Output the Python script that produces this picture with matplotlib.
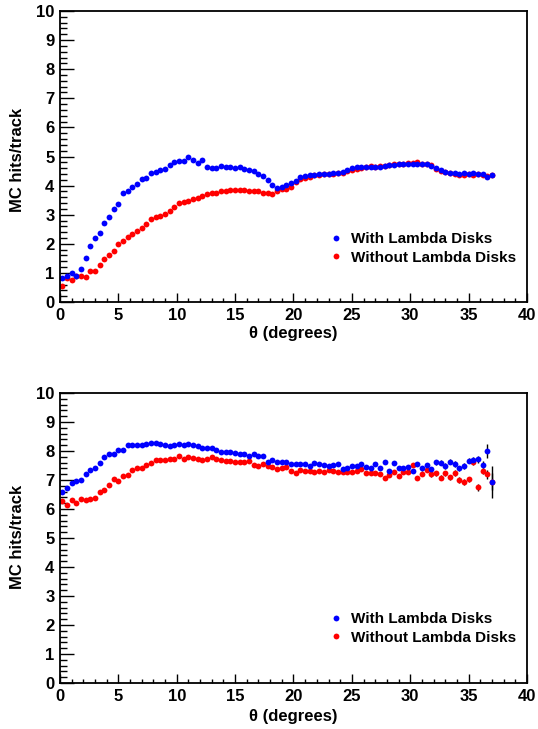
import matplotlib
matplotlib.use("Agg")
from matplotlib import pyplot as plt
from matplotlib.ticker import MultipleLocator
from matplotlib.lines import Line2D

plt.rcParams['font.family'] = ['Liberation Sans', 'DejaVu Sans']
plt.rcParams['font.weight'] = 'bold'

# bin centres, 0.4 degree bins
theta = [0.2 + 0.4 * i for i in range(93)]

# top panel
top_with = [0.82, 0.90, 1.00, 0.90, 1.13, 1.51, 1.91, 2.19, 2.37, 2.71,
            2.92, 3.20, 3.38, 3.74, 3.82, 3.94, 4.06, 4.24, 4.26, 4.45,
            4.47, 4.53, 4.57, 4.71, 4.81, 4.86, 4.83, 4.99, 4.87, 4.79,
            4.87, 4.64, 4.60, 4.62, 4.68, 4.65, 4.64, 4.60, 4.64, 4.56,
            4.54, 4.51, 4.41, 4.32, 4.19, 4.02, 3.93, 3.95, 4.01, 4.08,
            4.17, 4.30, 4.33, 4.35, 4.38, 4.40, 4.41, 4.41, 4.42, 4.43,
            4.46, 4.54, 4.59, 4.63, 4.63, 4.63, 4.65, 4.63, 4.64, 4.68,
            4.71, 4.72, 4.74, 4.73, 4.76, 4.76, 4.76, 4.74, 4.74, 4.68,
            4.60, 4.52, 4.48, 4.45, 4.42, 4.40, 4.44, 4.40, 4.45, 4.41,
            4.40, 4.28, 4.36]
top_without = [0.56, 0.82, 0.77, 0.90, 0.90, 0.86, 1.05, 1.05, 1.26, 1.48,
               1.60, 1.74, 2.00, 2.08, 2.22, 2.33, 2.43, 2.55, 2.68, 2.86,
               2.91, 2.95, 3.02, 3.12, 3.26, 3.40, 3.42, 3.46, 3.54, 3.59,
               3.65, 3.72, 3.74, 3.76, 3.80, 3.82, 3.84, 3.84, 3.84, 3.85,
               3.83, 3.83, 3.80, 3.76, 3.74, 3.70, 3.81, 3.87, 3.90, 3.96,
               4.12, 4.22, 4.25, 4.30, 4.35, 4.38, 4.40, 4.40, 4.40, 4.42,
               4.45, 4.50, 4.55, 4.58, 4.62, 4.64, 4.66, 4.64, 4.66, 4.68,
               4.70, 4.73, 4.74, 4.76, 4.78, 4.78, 4.80, 4.76, 4.76, 4.72,
               4.58, 4.50, 4.46, 4.44, 4.40, 4.36, 4.36, 4.40, 4.38, 4.40,
               4.36, 4.32, 4.36]

# bottom panel
bot_with = [6.59, 6.74, 6.88, 6.97, 7.00, 7.20, 7.34, 7.43, 7.57, 7.78,
            7.91, 7.91, 8.05, 8.03, 8.19, 8.19, 8.19, 8.20, 8.23, 8.29,
            8.26, 8.23, 8.21, 8.17, 8.19, 8.25, 8.22, 8.23, 8.21, 8.17,
            8.10, 8.12, 8.10, 8.05, 7.98, 7.97, 7.96, 7.94, 7.91, 7.89,
            7.82, 7.90, 7.83, 7.84, 7.61, 7.68, 7.61, 7.61, 7.62, 7.55,
            7.56, 7.56, 7.56, 7.48, 7.60, 7.55, 7.53, 7.49, 7.52, 7.56,
            7.38, 7.43, 7.50, 7.50, 7.54, 7.46, 7.40, 7.55, 7.43, 7.61,
            7.32, 7.60, 7.40, 7.43, 7.46, 7.32, 7.55, 7.40, 7.52, 7.38,
            7.61, 7.60, 7.48, 7.63, 7.55, 7.40, 7.48, 7.67, 7.69, 7.71,
            7.53, 8.00, 6.94]
bot_without = [6.28, 6.14, 6.31, 6.22, 6.33, 6.31, 6.33, 6.39, 6.58, 6.65,
               6.82, 7.02, 6.97, 7.13, 7.16, 7.34, 7.41, 7.43, 7.51, 7.59,
               7.68, 7.68, 7.68, 7.73, 7.73, 7.82, 7.71, 7.80, 7.75, 7.73,
               7.68, 7.71, 7.78, 7.71, 7.68, 7.65, 7.64, 7.61, 7.61, 7.62,
               7.65, 7.53, 7.47, 7.55, 7.47, 7.44, 7.39, 7.41, 7.45, 7.30,
               7.24, 7.33, 7.32, 7.30, 7.27, 7.32, 7.26, 7.35, 7.30, 7.29,
               7.27, 7.27, 7.27, 7.31, 7.38, 7.23, 7.25, 7.23, 7.21, 7.06,
               7.17, 7.27, 7.14, 7.29, 7.27, 7.52, 7.08, 7.21, 7.35, 7.20,
               7.23, 7.08, 7.23, 7.09, 7.25, 7.00, 6.94, 7.02, 7.63, 6.75,
               7.31, 7.20, 6.94]
bot_with_err = [0.03, 0.03, 0.03, 0.03, 0.03, 0.03, 0.03, 0.03, 0.03, 0.03,
                0.03, 0.03, 0.03, 0.03, 0.03, 0.03, 0.03, 0.03, 0.03, 0.03,
                0.03, 0.03, 0.03, 0.03, 0.03, 0.03, 0.03, 0.03, 0.03, 0.03,
                0.03, 0.03, 0.03, 0.03, 0.03, 0.03, 0.03, 0.03, 0.03, 0.03,
                0.03, 0.03, 0.04, 0.04, 0.04, 0.04, 0.04, 0.04, 0.04, 0.04,
                0.04, 0.04, 0.04, 0.04, 0.04, 0.04, 0.04, 0.04, 0.04, 0.05,
                0.05, 0.05, 0.05, 0.05, 0.05, 0.05, 0.05, 0.06, 0.06, 0.06,
                0.06, 0.06, 0.06, 0.07, 0.07, 0.07, 0.07, 0.08, 0.08, 0.08,
                0.08, 0.09, 0.09, 0.09, 0.10, 0.10, 0.10, 0.10, 0.10, 0.11,
                0.13, 0.25, 0.55]
bot_without_err = [0.03, 0.03, 0.03, 0.03, 0.03, 0.03, 0.03, 0.03, 0.03, 0.03,
                   0.03, 0.03, 0.03, 0.03, 0.03, 0.03, 0.03, 0.03, 0.03, 0.03,
                   0.03, 0.03, 0.03, 0.03, 0.03, 0.03, 0.03, 0.03, 0.03, 0.03,
                   0.03, 0.03, 0.03, 0.03, 0.03, 0.03, 0.03, 0.03, 0.03, 0.03,
                   0.03, 0.03, 0.04, 0.04, 0.04, 0.04, 0.04, 0.04, 0.04, 0.04,
                   0.04, 0.04, 0.04, 0.04, 0.04, 0.04, 0.04, 0.04, 0.04, 0.05,
                   0.05, 0.05, 0.05, 0.05, 0.05, 0.05, 0.05, 0.06, 0.06, 0.06,
                   0.06, 0.06, 0.06, 0.07, 0.07, 0.07, 0.07, 0.08, 0.08, 0.08,
                   0.08, 0.09, 0.09, 0.09, 0.10, 0.10, 0.10, 0.10, 0.10, 0.12,
                   0.12, 0.15, 0.30]

labels = ['With Lambda Disks', 'Without Lambda Disks']
colors = ['#0000ff', '#ff0000']

fig = plt.figure(figsize=(5.38, 7.29), dpi=100)
ax1 = fig.add_axes([0.1115, 0.5857, 0.868, 0.3992])
ax2 = fig.add_axes([0.1115, 0.0631, 0.868, 0.3978])

ms = 4.2

# red first so blue sits on top
ax1.plot(theta, top_without, 'o', color=colors[1], ms=ms, mew=0)
ax1.plot(theta, top_with, 'o', color=colors[0], ms=ms, mew=0)

ax2.errorbar(theta, bot_without, yerr=bot_without_err, fmt='o', color=colors[1],
             ecolor='black', elinewidth=1, capsize=0, ms=ms, mew=0)
ax2.errorbar(theta, bot_with, yerr=bot_with_err, fmt='o', color=colors[0],
             ecolor='black', elinewidth=1, capsize=0, ms=ms, mew=0)

handles = [Line2D([], [], ls='none', marker='o', color=c, ms=ms, mew=0) for c in colors]

for ax, ylab_y, xlab_y, leg_y in [(ax1, 0.488, -0.107, 0.184), (ax2, 0.503, -0.117, 0.188)]:
    ax.set_xlim(0, 40)
    ax.set_ylim(0, 10)
    ax.xaxis.set_major_locator(MultipleLocator(5))
    ax.xaxis.set_minor_locator(MultipleLocator(1))
    ax.yaxis.set_major_locator(MultipleLocator(1))
    ax.yaxis.set_minor_locator(MultipleLocator(0.2))
    ax.tick_params(axis='x', which='major', direction='in', length=6.3, width=1, pad=4,
                   labelsize=12, top=False)
    ax.tick_params(axis='x', which='minor', direction='in', length=3.1, width=1, top=False)
    ax.tick_params(axis='y', which='major', direction='in', length=10, width=1, pad=4,
                   labelsize=12, right=False)
    ax.tick_params(axis='y', which='minor', direction='in', length=5, width=1, right=False)
    for lab in ax.get_xticklabels() + ax.get_yticklabels():
        lab.set_fontweight('bold')
    for sp in ax.spines.values():
        sp.set_linewidth(1.3)
    ax.text(-0.092, ylab_y, 'MC hits/track', transform=ax.transAxes, rotation=90,
            ha='center', va='center', fontsize=12, fontweight='bold')
    ax.text(0.5, xlab_y, 'θ (degrees)', transform=ax.transAxes,
            ha='center', va='center', fontsize=12, fontweight='bold')
    ax.legend(handles, labels, loc='center left', bbox_to_anchor=(0.579, leg_y),
              frameon=False, handlelength=0.8, handletextpad=0.55,
              borderpad=0, borderaxespad=0, labelspacing=0.3, numpoints=1,
              prop={'weight': 'bold', 'size': 11})

fig.savefig('out.png', dpi=100)
